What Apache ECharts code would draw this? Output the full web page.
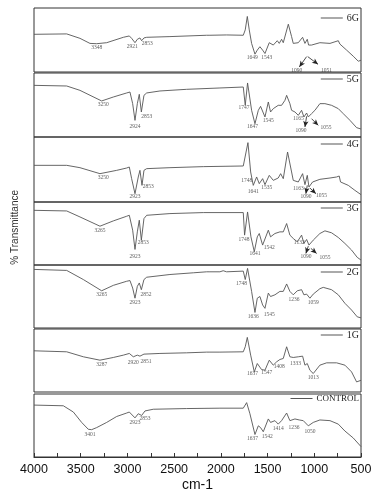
<!DOCTYPE html>
<html><head><meta charset="utf-8">
<script src="https://cdn.jsdelivr.net/npm/echarts@6/dist/echarts.min.js"></script>
<style>html,body{margin:0;padding:0;background:#fff}#c{width:386px;height:503px}</style>
</head><body><div id="c"></div>
<script>
// Series names (top to bottom)
const names = ['6G','5G','4G','3G','2G','1G','CONTROL'];
// x-axis tick labels
const xTicks = [4000,3500,3000,2500,2000,1500,1000,500];

// Spectra: [wavenumber cm-1, relative % transmittance within panel]
const s6G = [[4000,58.9],[3650,59.5],[3508,52.6],[3401,44.7],[3329,44.2],[3222,45.8],[3044,54.2],[2980,56.3],[2955,52.6],[2919,45.8],[2894,51.1],[2866,53.2],[2848,48.9],[2823,53.2],[2794,54.2],[2545,55.3],[2152,57.4],[2134,59.5],[2117,57.4],[1939,57.9],[1760,57.4],[1739,65.8],[1717,86.8],[1696,65.8],[1671,44.7],[1635,27.9],[1610,34.2],[1582,39.5],[1553,34.2],[1528,28.9],[1482,45.8],[1439,42.1],[1396,48.9],[1375,44.7],[1350,51.1],[1332,45.8],[1278,74.7],[1243,55.3],[1225,44.7],[1171,45.8],[1125,54.2],[1100,44.7],[1075,51.1],[1061,42.1],[1029,42.1],[940,45.8],[832,44.7],[743,48.9],[726,43.7],[654,34.2],[583,24.7],[529,16.8],[500,18.4]];
const s5G = [[4000,80.7],[3650,79.7],[3508,72.9],[3276,56.3],[3151,62.5],[3008,68.8],[2973,70.3],[2944,52.1],[2919,26.0],[2894,52.1],[2873,66.7],[2851,39.1],[2823,65.1],[2794,68.8],[2652,71.9],[2366,74.5],[2010,76.6],[1760,78.1],[1739,49.5],[1714,84.4],[1671,41.7],[1635,20.8],[1599,41.7],[1575,47.9],[1528,31.3],[1492,54.7],[1468,39.1],[1439,44.3],[1386,49.5],[1350,49.5],[1314,57.3],[1296,65.1],[1261,52.1],[1243,41.7],[1207,39.1],[1171,33.9],[1136,41.7],[1111,31.3],[1082,37.5],[1064,31.3],[1029,36.5],[993,41.7],[940,52.1],[886,52.1],[815,49.5],[743,44.3],[690,36.5],[618,26.0],[547,14.6],[500,12.5]];
const s4G = [[4000,56.4],[3650,56.4],[3508,52.8],[3294,43.6],[3115,48.7],[3008,52.3],[2980,53.8],[2955,35.9],[2919,12.8],[2884,38.5],[2866,48.7],[2844,25.6],[2823,48.7],[2794,51.3],[2545,52.8],[2188,54.4],[1760,55.4],[1739,53.8],[1710,91.3],[1681,46.2],[1653,25.6],[1617,38.5],[1589,28.2],[1553,35.9],[1528,26.7],[1482,41.0],[1439,33.3],[1386,36.9],[1360,43.6],[1332,35.9],[1286,76.9],[1243,46.2],[1225,33.3],[1171,30.8],[1125,43.6],[1100,26.7],[1075,41.0],[1057,23.1],[1018,30.8],[940,34.9],[832,36.9],[761,38.5],[733,40.0],[719,30.8],[636,25.6],[565,17.9],[500,11.3]];
const s3G = [[4000,86.8],[3650,85.8],[3508,76.3],[3294,61.6],[3151,70.0],[3008,77.4],[2980,78.9],[2944,55.3],[2919,24.7],[2894,52.6],[2873,71.1],[2851,39.5],[2823,73.7],[2794,78.9],[2545,81.6],[2188,83.2],[1760,83.2],[1746,47.4],[1714,84.2],[1678,44.7],[1642,21.1],[1610,44.7],[1589,50.0],[1553,31.6],[1546,30.0],[1492,55.3],[1468,44.7],[1421,50.0],[1368,52.6],[1332,52.6],[1296,65.8],[1261,47.4],[1225,42.1],[1182,36.8],[1136,47.4],[1111,34.2],[1082,40.5],[1057,31.6],[1011,39.5],[940,50.0],[886,54.2],[815,51.1],[743,43.7],[672,34.2],[601,23.7],[540,12.1],[500,7.9]];
const s2G = [[4000,93.0],[3650,91.4],[3472,76.9],[3276,59.1],[3151,67.7],[3008,74.2],[2973,75.3],[2944,63.4],[2919,47.3],[2894,66.1],[2873,71.5],[2851,60.8],[2823,76.9],[2794,80.6],[2545,84.9],[2295,87.6],[2152,89.2],[2134,91.9],[2117,89.2],[2010,89.2],[1975,90.9],[1939,89.2],[1760,90.3],[1739,76.9],[1714,94.6],[1671,58.1],[1635,24.7],[1610,47.3],[1582,50.0],[1553,36.6],[1528,31.2],[1492,55.4],[1468,50.0],[1421,52.7],[1368,58.1],[1332,58.1],[1296,69.9],[1261,58.1],[1225,52.7],[1182,59.1],[1136,60.8],[1111,52.7],[1082,53.8],[1047,47.3],[1011,53.8],[940,62.4],[904,64.5],[815,60.8],[743,52.7],[672,39.2],[601,28.5],[540,17.7],[500,16.1]];
const s1G = [[4000,65.4],[3650,63.8],[3472,55.9],[3294,50.5],[3151,54.8],[3044,58.5],[2980,61.2],[2937,55.9],[2894,58.5],[2866,56.9],[2823,60.1],[2652,61.2],[2366,62.2],[2152,63.3],[2134,64.9],[2117,63.3],[2010,63.3],[1760,63.8],[1739,71.8],[1717,86.7],[1681,58.5],[1642,31.9],[1610,45.2],[1589,47.9],[1564,35.6],[1528,34.6],[1482,50.5],[1439,42.6],[1403,47.9],[1368,51.6],[1332,53.2],[1296,71.8],[1261,55.9],[1225,54.8],[1171,55.9],[1125,56.9],[1100,42.6],[1075,45.2],[1047,34.6],[1011,29.3],[940,42.6],[868,46.3],[761,46.3],[672,42.6],[601,31.9],[547,16.0],[500,18.6]];
const sControl = [[4000,82.4],[3686,81.3],[3579,71.4],[3490,54.9],[3419,44.0],[3383,43.4],[3329,46.7],[3222,54.9],[3115,64.3],[3008,69.8],[2980,71.4],[2919,62.1],[2884,68.7],[2848,65.9],[2812,73.1],[2723,75.8],[2366,76.9],[2010,77.5],[1760,77.5],[1724,86.3],[1689,68.7],[1635,35.7],[1599,49.5],[1575,46.7],[1546,40.1],[1492,60.4],[1468,54.9],[1421,57.7],[1386,52.2],[1350,57.7],[1296,69.8],[1261,57.7],[1207,60.4],[1161,58.8],[1118,57.7],[1064,49.5],[1011,54.9],[940,58.8],[832,57.7],[743,52.2],[672,41.2],[583,30.2],[500,16.5]];

// Peak annotations: [wavenumber position, level, text]
const p6G = [[3329,37.9,'3348'],[2948,39.5,'2921'],[2787,43.7,'2853'],[1664,22.6,'1649'],[1510,22.6,'1543'],[1189,3,'1090'],[868,3,'1051']];
const p5G = [[3258,51.0,'3250'],[2919,15.6,'2924'],[2794,32.3,'2853'],[1753,45.8,'1747'],[1660,16.7,'1647'],[1492,25.0,'1545'],[1171,28.6,'1165'],[1143,9.4,'1090'],[875,14.6,'1055']];
const p4G = [[3258,36.9,'3250'],[2919,7.7,'2923'],[2777,23.1,'2853'],[1724,33.3,'1748'],[1653,16.4,'1641'],[1510,22.1,'1535'],[1171,20.5,'1163'],[1090,8.7,'1090'],[922,9.7,'1055']];
const p3G = [[3294,55.3,'3265'],[2919,13.2,'2923'],[2830,35.3,'2853'],[1753,41.1,'1748'],[1635,18.4,'1641'],[1482,27.9,'1542'],[1161,35.3,'1132'],[1090,13.2,'1090'],[886,12.1,'1055']];
const p2G = [[3276,52.7,'3265'],[2919,40.3,'2923'],[2801,53.8,'2852'],[1778,70.4,'1748'],[1653,17.7,'1636'],[1482,22.0,'1545'],[1218,45.7,'1236'],[1011,40.9,'1059']];
const p1G = [[3276,44.1,'3287'],[2937,46.8,'2920'],[2801,48.9,'2851'],[1660,29.3,'1637'],[1510,30.9,'1547'],[1375,39.9,'1408'],[1200,45.2,'1333'],[1011,22.9,'1013']];
const pControl = [[3401,35.7,'3401'],[2919,54.9,'2923'],[2812,61.5,'2853'],[1660,28.6,'1637'],[1503,33.0,'1542'],[1386,45.1,'1414'],[1218,46.7,'1236'],[1047,39.6,'1050']];

// Arrows: [[from wn, level],[to wn, level]]
const a6G = [[[1082,24],[1160,8]],[[1070,24],[960,12]]];
const a5G = [[[1082,32.3],[1100,15.6]],[[1029,28.6],[958,18.2]]];
const a4G = [[[1075,25.6],[1090,12.8]],[[1047,21.5],[982,12.8]]];
const a3G = [[[1064,30],[1090,18.4]],[[1036,26.3],[975,18.4]]];

const spectra = [s6G,s5G,s4G,s3G,s2G,s1G,sControl];
const peaks = [p6G,p5G,p4G,p3G,p2G,p1G,pControl];
const arrows = [a6G,a5G,a4G,a3G,[],[],[]];

// layout
const gridTops = [8,73,137,202,265,329,394];
const gridHeights = [64,64,65,63,63,63,63];
const legendTops = [13,74,139,203,267,330,394];

const grids=[],xAxes=[],yAxes=[],series=[],legends=[];
names.forEach((n,i)=>{
  const last = i===names.length-1;
  grids.push({left:34,right:25,top:gridTops[i],height:gridHeights[i],show:true,borderColor:'#333',borderWidth:1,containLabel:false});
  xAxes.push({gridIndex:i,type:'value',min:500,max:4000,inverse:true,interval:250,show:last,
    name:last?'cm-1':'',nameLocation:'middle',nameGap:21,
    nameTextStyle:{fontFamily:'Liberation Sans',fontSize:14,color:'#111'},
    axisLine:{show:true,lineStyle:{color:'#333',width:1.2}},
    axisTick:{show:true,inside:true,length:4,lineStyle:{color:'#333'}},
    axisLabel:{margin:6,fontFamily:'Liberation Sans',fontSize:12.5,color:'#111',
      formatter:v=>xTicks.indexOf(v)>=0?String(v):''},
    splitLine:{show:false}});
  yAxes.push({gridIndex:i,type:'value',min:0,max:100,show:false,splitLine:{show:false}});
  series.push({name:n,type:'line',xAxisIndex:i,yAxisIndex:i,data:spectra[i],showSymbol:false,symbol:'none',
    lineStyle:{color:'#555',width:0.9},itemStyle:{color:'#555'},silent:true,
    markLine:{silent:true,symbol:['none','arrow'],symbolSize:[4,6],label:{show:false},
      lineStyle:{color:'#222',width:0.8,type:'solid'},
      data:arrows[i].map(a=>[{coord:a[0]},{coord:a[1]}])}});
  series.push({name:n+'_peaks',type:'scatter',xAxisIndex:i,yAxisIndex:i,symbolSize:1,
    itemStyle:{color:'rgba(0,0,0,0)'},silent:true,
    data:peaks[i].map(p=>({value:[p[0],p[1]],label:{formatter:p[2]}})),
    label:{show:true,position:'inside',fontFamily:'Liberation Serif',fontSize:5.5,color:'#333'}});
  legends.push({data:[n],right:27,top:legendTops[i],icon:'rect',itemWidth:22,itemHeight:1,itemGap:4,padding:0,
    selectedMode:false,textStyle:{fontFamily:'Liberation Serif',fontSize:last?9:10,color:'#222',padding:[0,0,0,-1]}});
});

const chart = echarts.init(document.getElementById('c'),null,{renderer:'canvas'});
chart.setOption({
  animation:false,
  backgroundColor:'#fff',
  grid:grids,xAxis:xAxes,yAxis:yAxes,series:series,legend:legends,
  graphic:[{type:'text',left:10,top:190,rotation:Math.PI/2,
    style:{text:'% Transmittance',fontFamily:'Liberation Sans',fontSize:10,fill:'#333'}}]
});
</script></body></html>
